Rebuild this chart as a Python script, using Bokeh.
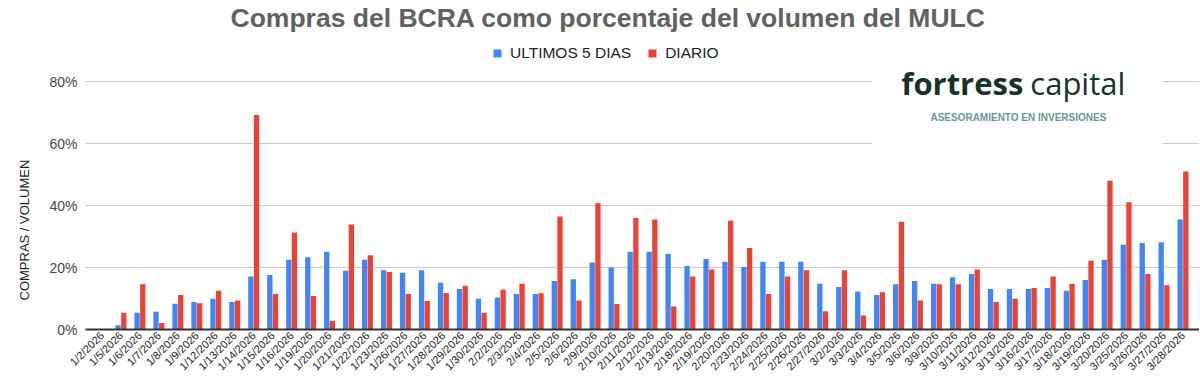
import math
from bokeh.plotting import figure
from bokeh.models import (ColumnDataSource, FactorRange, FixedTicker, PrintfTickFormatter,
                          Range1d, Label, BoxAnnotation, Title)
from bokeh.transform import dodge
from bokeh.embed import file_html
from bokeh.resources import INLINE

TITLE = "Compras del BCRA como porcentaje del volumen del MULC"
SERIES_NAMES = ["ULTIMOS 5 DIAS", "DIARIO"]
Y_TICKS = [0, 20, 40, 60, 80]
Y_TITLE = "COMPRAS / VOLUMEN"

dates = ["1/2/2026", "1/5/2026", "1/6/2026", "1/7/2026", "1/8/2026", "1/9/2026",
         "1/12/2026", "1/13/2026", "1/14/2026", "1/15/2026", "1/16/2026", "1/19/2026",
         "1/20/2026", "1/21/2026", "1/22/2026", "1/23/2026", "1/26/2026", "1/27/2026",
         "1/28/2026", "1/29/2026", "1/30/2026", "2/2/2026", "2/3/2026", "2/4/2026",
         "2/5/2026", "2/6/2026", "2/9/2026", "2/10/2026", "2/11/2026", "2/12/2026",
         "2/13/2026", "2/18/2026", "2/19/2026", "2/20/2026", "2/23/2026", "2/24/2026",
         "2/25/2026", "2/26/2026", "2/27/2026", "3/2/2026", "3/3/2026", "3/4/2026",
         "3/5/2026", "3/6/2026", "3/9/2026", "3/10/2026", "3/11/2026", "3/12/2026",
         "3/13/2026", "3/16/2026", "3/17/2026", "3/18/2026", "3/19/2026", "3/20/2026",
         "3/25/2026", "3/26/2026", "3/27/2026", "3/28/2026"]

ultimos_5 = [0, 1.4, 5.4, 5.7, 8.3, 8.9, 9.9, 8.9, 17.1, 17.6,
             22.5, 23.3, 25.1, 19.0, 22.5, 19.1, 18.3, 19.1, 15.1, 13.1,
             9.9, 10.3, 11.5, 11.5, 15.7, 16.2, 21.6, 20.0, 25.1, 25.1,
             24.4, 20.5, 22.8, 21.9, 20.2, 21.9, 21.9, 21.9, 14.8, 13.7,
             12.3, 11.1, 14.6, 15.7, 14.8, 16.9, 17.9, 13.1, 13.1, 13.1,
             13.4, 12.5, 16.0, 22.5, 27.4, 27.9, 28.2, 35.5]

diario = [0, 5.4, 14.6, 2.1, 11.1, 8.5, 12.5, 9.4, 69.3, 11.5,
          31.3, 10.8, 2.8, 33.9, 24.0, 18.6, 11.5, 9.2, 11.8, 14.1,
          5.4, 12.8, 14.8, 11.7, 36.5, 9.4, 40.8, 8.2, 36.0, 35.5,
          7.4, 17.1, 19.4, 35.1, 26.3, 11.5, 17.1, 19.1, 5.9, 19.1,
          4.5, 12.0, 34.8, 9.4, 14.6, 14.6, 19.4, 8.9, 9.9, 13.4,
          17.1, 14.8, 22.2, 48.0, 41.1, 17.9, 14.3, 51.0]

BLUE = "#4285F4"
RED = "#EA4335"
FONT = "Liberation Sans"

source = ColumnDataSource(data=dict(date=dates, ultimos=ultimos_5, diario=diario))

Y_TOP = 95.9

p = figure(
    x_range=FactorRange(factors=dates, range_padding=0.37, range_padding_units="absolute"),
    y_range=Range1d(0, Y_TOP),
    width=1199, height=379,
    output_backend="svg", toolbar_location=None,
    title=TITLE,
    min_border_left=80, min_border_right=0, min_border_top=0, min_border_bottom=0,
)
p.outline_line_color = None

p.title.text_font = FONT
p.title.text_font_size = "26.5px"
p.title.text_font_style = "bold"
p.title.text_color = "#616161"
p.title.align = "left"
p.title.standoff = 0
p.title.offset = 145

p.vbar(x=dodge("date", -0.15, range=p.x_range), top="ultimos", width=0.28,
       source=source, fill_color=BLUE, line_color=None, legend_label=SERIES_NAMES[0])
p.vbar(x=dodge("date", 0.15, range=p.x_range), top="diario", width=0.28,
       source=source, fill_color=RED, line_color=None, legend_label=SERIES_NAMES[1])

# axes
p.yaxis.ticker = FixedTicker(ticks=Y_TICKS)
p.yaxis.formatter = PrintfTickFormatter(format="%d%%")
p.yaxis.axis_line_color = None
p.yaxis.major_tick_line_color = None
p.yaxis.minor_tick_line_color = None
p.yaxis.major_tick_out = 0
p.yaxis.major_tick_in = 0
p.yaxis.minor_tick_out = 0
p.yaxis.major_label_text_font = FONT
p.yaxis.major_label_text_font_size = "14px"
p.yaxis.major_label_text_color = "#444444"
p.yaxis.major_label_standoff = 8

p.xaxis.major_label_orientation = math.pi / 4
p.xaxis.major_label_text_font = FONT
p.xaxis.major_label_text_font_size = "11px"
p.xaxis.major_label_text_color = "#222222"
p.xaxis.major_label_standoff = 4
p.xaxis.axis_line_color = "#333333"
p.xaxis.axis_line_width = 2
p.xaxis.major_tick_line_color = None
p.xaxis.minor_tick_line_color = None
p.xaxis.major_tick_out = 0
p.xaxis.major_tick_in = 0
p.xaxis.minor_tick_out = 0

p.xgrid.grid_line_color = None
p.ygrid.grid_line_color = "#cccccc"
p.ygrid.grid_line_width = 1

# y axis title as a side title, offset toward the lower part like the reference
ytitle = Title(text=Y_TITLE, align="left", offset=29, standoff=29,
               text_font=FONT, text_font_size="13px", text_font_style="normal",
               text_color="#222222")
p.add_layout(ytitle, "left")

# legend
leg = p.legend[0]
leg.location = (407, 267)
leg.orientation = "horizontal"
leg.label_text_font = FONT
leg.label_text_font_size = "15.5px"
leg.label_text_color = "#222222"
leg.glyph_width = 10
leg.glyph_height = 10
leg.label_height = 15
leg.label_standoff = 8
leg.spacing = 16
leg.padding = 0
leg.margin = 0
leg.border_line_color = None
leg.background_fill_alpha = 0

# logo (white backing box + text)
p.add_layout(BoxAnnotation(left=41.12, right=56.41, bottom=57.8, top=Y_TOP,
                           fill_color="white", fill_alpha=1.0, line_color=None))
p.add_layout(Label(x=49.08, y=79.6, text="fortress", text_align="right",
                   text_baseline="alphabetic", text_font="Open Sans",
                   text_font_size="31px", text_font_style="bold", text_color="#173329"))
p.add_layout(Label(x=49.45, y=79.6, text="capital", text_align="left",
                   text_baseline="alphabetic", text_font="Open Sans",
                   text_font_size="31px", text_font_style="normal", text_color="#173329"))
p.add_layout(Label(x=48.82, y=68.6, text="ASESORAMIENTO EN INVERSIONES", text_align="center",
                   text_baseline="alphabetic", text_font=FONT,
                   text_font_size="10px", text_font_style="bold", text_color="#6b9595"))

open("out.html", "w").write(file_html(p, INLINE))
